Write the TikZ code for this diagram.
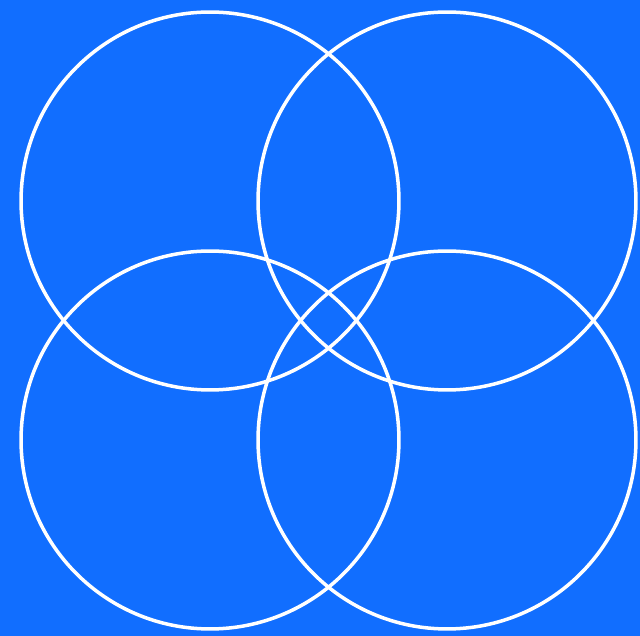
\documentclass[tikz,border=0pt]{standalone}
\usepackage{xcolor}
\usepackage{tikz}
\usetikzlibrary{positioning}
\definecolor{myblue}{RGB}{17,110,255}
\definecolor{mywhite}{RGB}{255,255,255}
\tikzset{
  ring/.style={circle, draw=mywhite, line width=2pt, inner sep=0pt,
    minimum size=7.56cm}
}

\begin{document}
\begin{tikzpicture}[x=0.02cm, y=0.02cm]

  \fill[myblue] (0,0) rectangle (640,636);
  \useasboundingbox (0,0) rectangle (640,636);

  \node[ring] (tl) at (210,435) {};
  \node[ring] (tr) at (447,435) {};
  \node[ring] (bl) at (210,196) {};
  \node[ring] (br) at (447,196) {};

\end{tikzpicture}
\end{document}
